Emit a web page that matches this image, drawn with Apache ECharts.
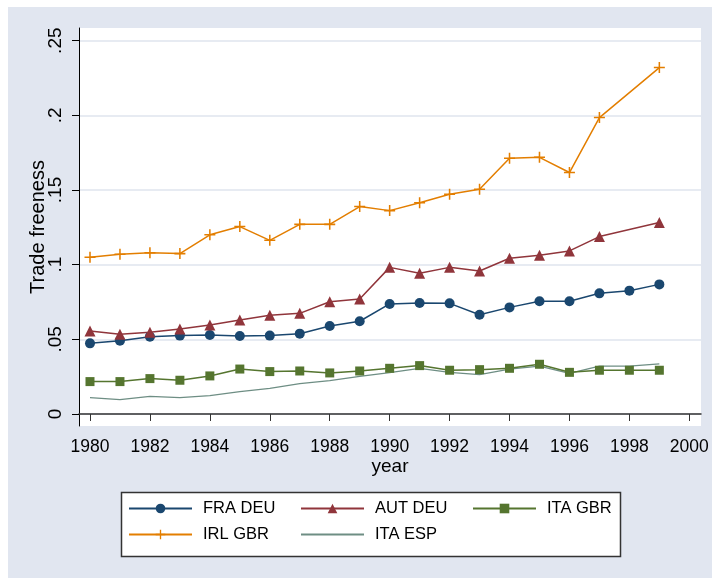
<!DOCTYPE html>
<html>
<head>
<meta charset="utf-8">
<script src="https://cdn.jsdelivr.net/npm/echarts@6/dist/echarts.min.js"></script>
<style>
  html, body { margin: 0; padding: 0; background: #fff; }
  #chart { width: 712px; height: 579px; }
</style>
</head>
<body>
<div id="chart"></div>
<script>
const years = [1980, 1981, 1982, 1983, 1984, 1985, 1986, 1987, 1988, 1989,
  1990, 1991, 1992, 1993, 1994, 1995, 1996, 1997, 1998, 1999];

const fraDeu = [0.0473, 0.0491, 0.0518, 0.0525, 0.0529, 0.0522, 0.0525, 0.0538, 0.0589, 0.0621,
  0.0737, 0.0743, 0.0741, 0.0665, 0.0714, 0.0755, 0.0755, 0.0808, 0.0826, 0.0868];
const autDeu = [0.0556, 0.0534, 0.0547, 0.0569, 0.0596, 0.063, 0.0661, 0.0674, 0.0752, 0.077,
  0.0982, 0.0942, 0.0982, 0.0958, 0.1043, 0.1063, 0.1092, 0.1188, null, 0.1282];
const itaGbr = [0.0217, 0.0217, 0.0237, 0.0226, 0.0255, 0.0301, 0.0284, 0.0288, 0.0275, 0.0288,
  0.0306, 0.0324, 0.0293, 0.0297, 0.0306, 0.0333, 0.0279, 0.0293, 0.0293, 0.0293];
const irlGbr = [0.105, 0.107, 0.108, 0.1074, 0.120, 0.1255, 0.1163, 0.127, 0.127, 0.1389,
  0.1362, 0.1415, 0.1471, 0.1505, 0.1713, 0.1719, 0.1617, 0.1985, null, 0.232];
const itaEsp = [0.0109, 0.0096, 0.0118, 0.0109, 0.0123, 0.015, 0.0172, 0.0203, 0.0223, 0.0252,
  0.0277, 0.0306, 0.0279, 0.0263, 0.0301, 0.0321, 0.0272, 0.0321, 0.0321, 0.0335];

const xTicks = [1980, 1982, 1984, 1986, 1988, 1990, 1992, 1994, 1996, 1998, 2000];
const yTicks = [0, 0.05, 0.1, 0.15, 0.2, 0.25];

const plusPath = "path://M4.3,0H5.7V4.3H10V5.7H5.7V10H4.3V5.7H0V4.3H4.3Z";
const font = "Liberation Sans, Arial, sans-serif";

const pair = (arr) => years.map((y, i) => [y, arr[i]]);

const chart = echarts.init(document.getElementById("chart"));

const legendItem = (name, left, top, extra) => Object.assign({
  data: [name],
  left: left,
  top: top,
  orient: "horizontal",
  padding: 0,
  itemGap: 0,
  itemWidth: 63,
  itemHeight: 12,
  selectedMode: false,
  textStyle: { fontFamily: font, fontSize: 16.5, color: "#000", padding: [0, 0, 0, 6] },
}, extra || {});

chart.setOption({
  animation: false,
  backgroundColor: "#fff",
  graphic: [
    {
      type: "rect",
      z: -10,
      shape: { x: 8, y: 7, width: 704, height: 571 },
      style: { fill: "#e1e6f0" },
    },
    {
      type: "rect",
      z: 1,
      shape: { x: 121.5, y: 492.5, width: 499, height: 64 },
      style: { fill: "#fff", stroke: "#333", lineWidth: 1.5 },
    },
  ],
  grid: {
    left: 79,
    top: 28,
    right: 11,
    bottom: 153,
    show: true,
    backgroundColor: "#fff",
    borderWidth: 0,
  },
  xAxis: {
    type: "value",
    min: 1979.633,
    max: 2000.39,
    name: "year",
    nameLocation: "middle",
    nameGap: 31,
    nameMoveOverlap: false,
    nameTextStyle: { fontFamily: font, fontSize: 19, color: "#000" },
    axisLine: { show: true, lineStyle: { color: "#333", width: 1.5 } },
    axisTick: { show: true, length: 7, lineStyle: { color: "#333" }, customValues: xTicks },
    axisLabel: {
      customValues: xTicks,
      margin: 12,
      fontFamily: font,
      fontSize: 17.5,
      color: "#000",
      formatter: (v) => String(Math.round(v)),
    },
    splitLine: { show: false },
  },
  yAxis: {
    type: "value",
    min: -0.00804,
    max: 0.2585,
    name: "Trade freeness",
    nameLocation: "middle",
    nameGap: 31,
    nameMoveOverlap: false,
    nameTextStyle: { fontFamily: font, fontSize: 20, color: "#000" },
    axisLine: { show: true, lineStyle: { color: "#000", width: 1 } },
    axisTick: { show: true, length: 7, lineStyle: { color: "#000" }, customValues: yTicks },
    axisLabel: {
      customValues: yTicks,
      rotate: 90,
      margin: 14,
      fontFamily: font,
      fontSize: 19,
      color: "#000",
      formatter: (v) => (v === 0 ? "0" : String(+v.toFixed(2)).replace(/^0/, "")),
    },
    splitLine: { show: true, lineStyle: { color: "#dfe5ee", width: 1.5 } },
  },
  legend: [
    legendItem("FRA DEU", 128, 500),
    legendItem("AUT DEU", 300, 500),
    legendItem("ITA GBR", 472, 500),
    legendItem("IRL GBR", 128, 526),
    legendItem("ITA ESP", 300, 526, { itemStyle: { opacity: 0 } }),
  ],
  series: [
    {
      name: "ITA ESP",
      type: "line",
      data: pair(itaEsp),
      symbol: "none",
      lineStyle: { color: "#6e8e84", width: 1.3 },
      itemStyle: { color: "#6e8e84" },
    },
    {
      name: "ITA GBR",
      type: "line",
      data: pair(itaGbr),
      symbol: "rect",
      symbolSize: 9,
      lineStyle: { color: "#55752f", width: 1.5 },
      itemStyle: { color: "#55752f" },
    },
    {
      name: "FRA DEU",
      type: "line",
      data: pair(fraDeu),
      symbol: "circle",
      symbolSize: 10,
      lineStyle: { color: "#1a476f", width: 1.5 },
      itemStyle: { color: "#1a476f" },
    },
    {
      name: "AUT DEU",
      type: "line",
      data: pair(autDeu),
      connectNulls: true,
      symbol: "triangle",
      symbolSize: 11,
      lineStyle: { color: "#90353b", width: 1.5 },
      itemStyle: { color: "#90353b" },
    },
    {
      name: "IRL GBR",
      type: "line",
      data: pair(irlGbr),
      connectNulls: true,
      symbol: plusPath,
      symbolSize: 11,
      lineStyle: { color: "#e37e00", width: 1.5 },
      itemStyle: { color: "#e37e00" },
    },
  ],
});
</script>
</body>
</html>
